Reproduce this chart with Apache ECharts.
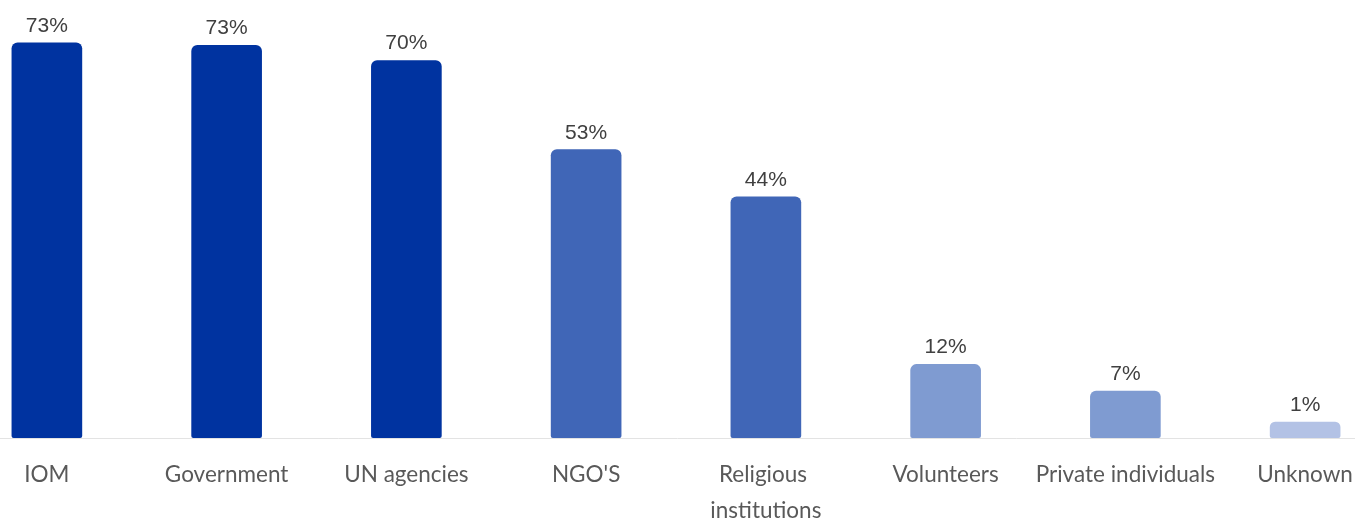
<!DOCTYPE html>
<html>
<head>
<meta charset="utf-8">
<script src="https://cdn.jsdelivr.net/npm/echarts@6/dist/echarts.min.js"></script>
<style>
  html, body { margin: 0; padding: 0; background: #ffffff; }
  #chart { width: 1355px; height: 519px; }
</style>
</head>
<body>
<div id="chart"></div>
<script>
// Who provided assistance (share of respondents, %)
const categories = ['IOM', 'Government', 'UN agencies', "NGO'S", 'Religious institutions',
                    'Volunteers', 'Private individuals', 'Unknown'];
const shares = [73.4, 72.9, 70, 53, 44, 12, 6.9, 1];
const barColors = ['#0033A0', '#0033A0', '#0033A0', '#4066B7', '#4066B7',
                   '#7F9BD1', '#7F9BD1', '#B3C2E5'];

// Value scale: pixels per percentage point, with the zero line on a whole pixel
const pxPerPoint = 5.24;
const plotHeight = 438;
const zeroFromTop = 427;
const axisMax = zeroFromTop / pxPerPoint;
const plinth = -(plotHeight - zeroFromTop) / pxPerPoint; // bars run a little below zero

const chart = echarts.init(document.getElementById('chart'), null, { renderer: 'canvas' });

chart.setOption({
  animation: false,
  grid: { left: -43, right: -40, top: 0, height: plotHeight, outerBoundsMode: 'none', containLabel: false },
  xAxis: {
    type: 'category',
    data: categories,
    axisLine: { onZero: false, lineStyle: { color: '#e3e3e3', width: 1 } },
    axisTick: { show: false },
    axisLabel: {
      interval: 0,
      margin: 19,
      color: '#595959',
      fontFamily: 'Lato',
      fontSize: 22.5,
      lineHeight: 36,
      width: 186,
      overflow: 'break'
    }
  },
  yAxis: {
    type: 'value',
    min: plinth,
    max: axisMax,
    show: false,
    splitLine: { show: false }
  },
  series: [
    {
      name: 'plinth',
      type: 'bar',
      stack: 'share',
      barWidth: '39.3%',
      silent: true,
      data: shares.map((_, i) => ({
        value: plinth,
        itemStyle: { color: barColors[i], borderRadius: [0, 0, 2, 2] }
      }))
    },
    {
      name: 'share',
      type: 'bar',
      stack: 'share',
      barWidth: '39.3%',
      data: shares.map((v, i) => ({
        value: v,
        itemStyle: { color: barColors[i], borderRadius: [6, 6, 0, 0] }
      })),
      label: {
        show: true,
        position: 'top',
        distance: 6,
        color: '#404040',
        fontFamily: 'Liberation Sans',
        fontSize: 21,
        formatter: p => Math.round(p.value) + '%'
      }
    }
  ]
});
</script>
</body>
</html>
